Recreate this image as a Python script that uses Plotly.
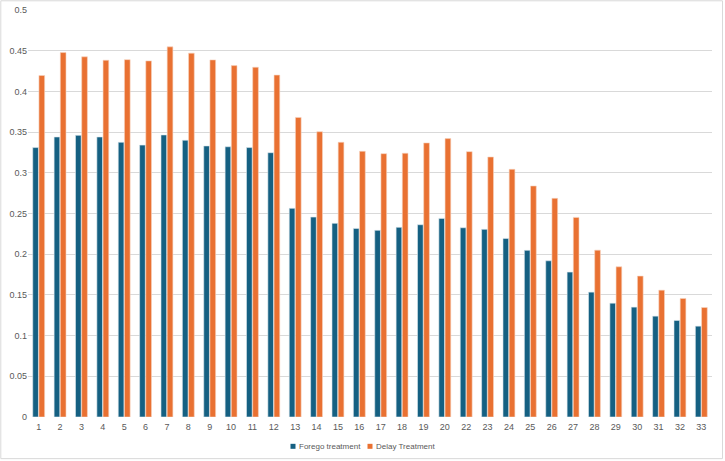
import plotly.graph_objects as go

categories = [str(i) for i in range(1, 21)] + [str(i) for i in range(22, 34)]
forego = [0.331, 0.344, 0.346, 0.344, 0.3375, 0.334, 0.3465, 0.340, 0.333, 0.332,
          0.331, 0.3247, 0.2563, 0.2456, 0.2379, 0.2317, 0.2293, 0.233, 0.2362, 0.244,
          0.2325, 0.2305, 0.2194, 0.2047, 0.1919, 0.178, 0.1534, 0.1398, 0.135, 0.1239,
          0.1186, 0.1116]
delay = [0.4195, 0.4477, 0.4425, 0.4383, 0.439, 0.4375, 0.4547, 0.447, 0.4387, 0.4317,
         0.4297, 0.420, 0.368, 0.3505, 0.3375, 0.3264, 0.3235, 0.324, 0.3367, 0.342,
         0.326, 0.3194, 0.3043, 0.2838, 0.2686, 0.2452, 0.2050, 0.1845, 0.1731, 0.1558,
         0.1456, 0.1345]
y_ticks = [0, 0.05, 0.1, 0.15, 0.2, 0.25, 0.3, 0.35, 0.4, 0.45, 0.5]
y_tick_labels = ["0", "0.05", "0.1", "0.15", "0.2", "0.25", "0.3", "0.35", "0.4", "0.45", "0.5"]
series_names = ["Forego treatment", "Delay Treatment"]
series_colors = ["#156082", "#E97132"]
edge_colors = ["#dfe9ee", "#f6d3bf"]

W, H = 725, 461
ml, mr, mt, mb = 28, 13, 10, 44.3
pw = W - ml - mr
ph = H - mt - mb


def px_x(p):
    return (p - ml) / pw


def px_y(p):
    return (H - mb - p) / ph


fig = go.Figure()
for name, vals, col, ec in zip(series_names, [forego, delay], series_colors, edge_colors):
    fig.add_trace(go.Bar(x=categories, y=vals, name=name, showlegend=False,
                         marker=dict(color=col, line=dict(color=ec, width=0.6))))

# legend drawn as small squares + labels (Excel style)
legend_square_x = [293, 370]
legend_text_x = [298, 375]
legend_y = 446
for name, col, sx, tx in zip(series_names, series_colors, legend_square_x, legend_text_x):
    fig.add_shape(type="rect", xref="paper", yref="paper",
                  x0=px_x(sx - 2.5), x1=px_x(sx + 2.5),
                  y0=px_y(legend_y + 2.5), y1=px_y(legend_y - 2.5),
                  line=dict(width=0), fillcolor=col)
    fig.add_annotation(xref="paper", yref="paper", x=px_x(tx), y=px_y(legend_y),
                       text=name, showarrow=False, xanchor="left", yanchor="middle",
                       borderpad=0, font=dict(size=8, color="#595959"))

fig.update_layout(
    width=W, height=H,
    margin=dict(l=ml, r=mr, t=mt, b=mb, autoexpand=False),
    paper_bgcolor="white", plot_bgcolor="white",
    barmode="group", bargap=0.42, bargroupgap=0.08,
    font=dict(family="Liberation Sans, Arial, sans-serif", size=9, color="#595959"),
    xaxis=dict(type="category", showgrid=False, zeroline=False, showline=False,
               ticks="", ticklabelstandoff=3, tickfont=dict(size=9, color="#595959")),
    yaxis=dict(range=[0, 0.5], tickvals=y_ticks, ticktext=y_tick_labels,
               showgrid=True, gridcolor="#d9d9d9", gridwidth=1, zeroline=False,
               showline=False, ticks="", tickfont=dict(size=9, color="#595959")),
    showlegend=False,
)
fig.add_shape(type="rect", xref="paper", yref="paper",
              x0=px_x(0.8), x1=px_x(722.5),
              y0=px_y(458.3), y1=px_y(0.8),
              line=dict(color="#d9d9d9", width=1), fillcolor="rgba(0,0,0,0)", layer="below")
fig.write_html("out.html")
